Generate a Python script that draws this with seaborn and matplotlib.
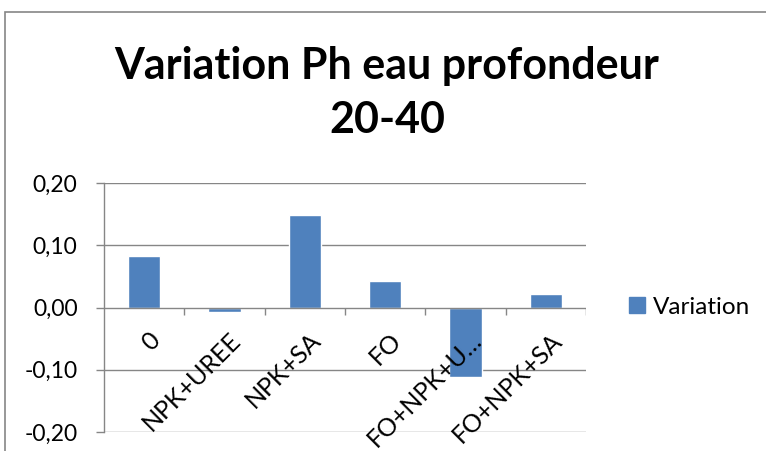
import pandas as pd
import matplotlib
matplotlib.use("Agg")
import matplotlib.pyplot as plt
from matplotlib.patches import Patch, Rectangle
import seaborn as sns

categories = ["0", "NPK+UREE", "NPK+SA", "FO", "FO+NPK+UREE", "FO+NPK+SA"]
tick_labels = ["0", "NPK+UREE", "NPK+SA", "FO", "FO+NPK+U…", "FO+NPK+SA"]
variation = [0.082, -0.007, 0.149, 0.043, -0.111, 0.022]
y_ticks = [-0.20, -0.10, 0.00, 0.10, 0.20]

BLUE = "#4F81BD"
GRID = "#868686"


def main():
    df = pd.DataFrame({"cat": categories, "Variation": variation})

    sns.set_theme(style="white")
    plt.rcParams["font.family"] = ["Lato", "DejaVu Sans"]
    plt.rcParams["text.color"] = "black"

    fig = plt.figure(figsize=(7.66, 4.51), dpi=100)
    ax = fig.add_axes([104 / 766, 1 - 432 / 451, (586 - 104) / 766, (432 - 183) / 451])

    sns.barplot(data=df, x="cat", y="Variation", color=BLUE, width=0.4,
                saturation=1, ax=ax, zorder=3)

    ax.set_ylim(-0.2, 0.2)
    ax.set_xlim(-0.5, len(categories) - 0.5)
    ax.set_yticks(y_ticks)
    ax.set_yticklabels([f"{v:.2f}".replace(".", ",") for v in y_ticks], fontsize=16.5)
    ax.tick_params(axis="y", direction="out", length=6, width=1, color=GRID,
                   left=True, pad=13, labelcolor="black")
    ax.set_xticks([])
    ax.set_xlabel("")
    ax.set_ylabel("")

    for v in y_ticks:
        if v != 0:
            ax.axhline(v, color=GRID, lw=1, zorder=1)
    ax.axhline(0, color=GRID, lw=1, zorder=4)

    for s in ["top", "right", "bottom"]:
        ax.spines[s].set_visible(False)
    ax.spines["left"].set_color(GRID)
    ax.spines["left"].set_linewidth(1)

    # tick marks between categories on the zero line
    bounds = [i - 0.5 for i in range(len(categories) + 1)]
    ax.vlines(bounds[1:], 0, -0.012, color=GRID, lw=1, zorder=4)

    for i, lab in enumerate(tick_labels):
        ax.annotate(lab, xy=(i, 0), xytext=(3, -15), textcoords="offset points",
                    rotation=45, ha="right", va="top", rotation_mode="anchor",
                    fontsize=18, color="black")

    ax.legend(handles=[Patch(color=BLUE, label="Variation")],
              loc="center left", bbox_to_anchor=(607 / 766, 1 - 307 / 451),
              bbox_transform=fig.transFigure, frameon=False, fontsize=17.5,
              handlelength=0.65, handleheight=0.65, handletextpad=0.35)

    fig.text(387 / 766, 1 - 93 / 451, "Variation Ph eau profondeur\n20-40",
             ha="center", va="center", fontsize=31, fontweight="bold",
             linespacing=1.45, color="black")

    fig.patches.append(Rectangle((5 / 766, -0.5), 2, 0.5 + 1 - 12 / 451,
                                 transform=fig.transFigure, fill=False,
                                 edgecolor=GRID, lw=1.2))

    fig.savefig("out.png", dpi=100)


if __name__ == "__main__":
    main()
